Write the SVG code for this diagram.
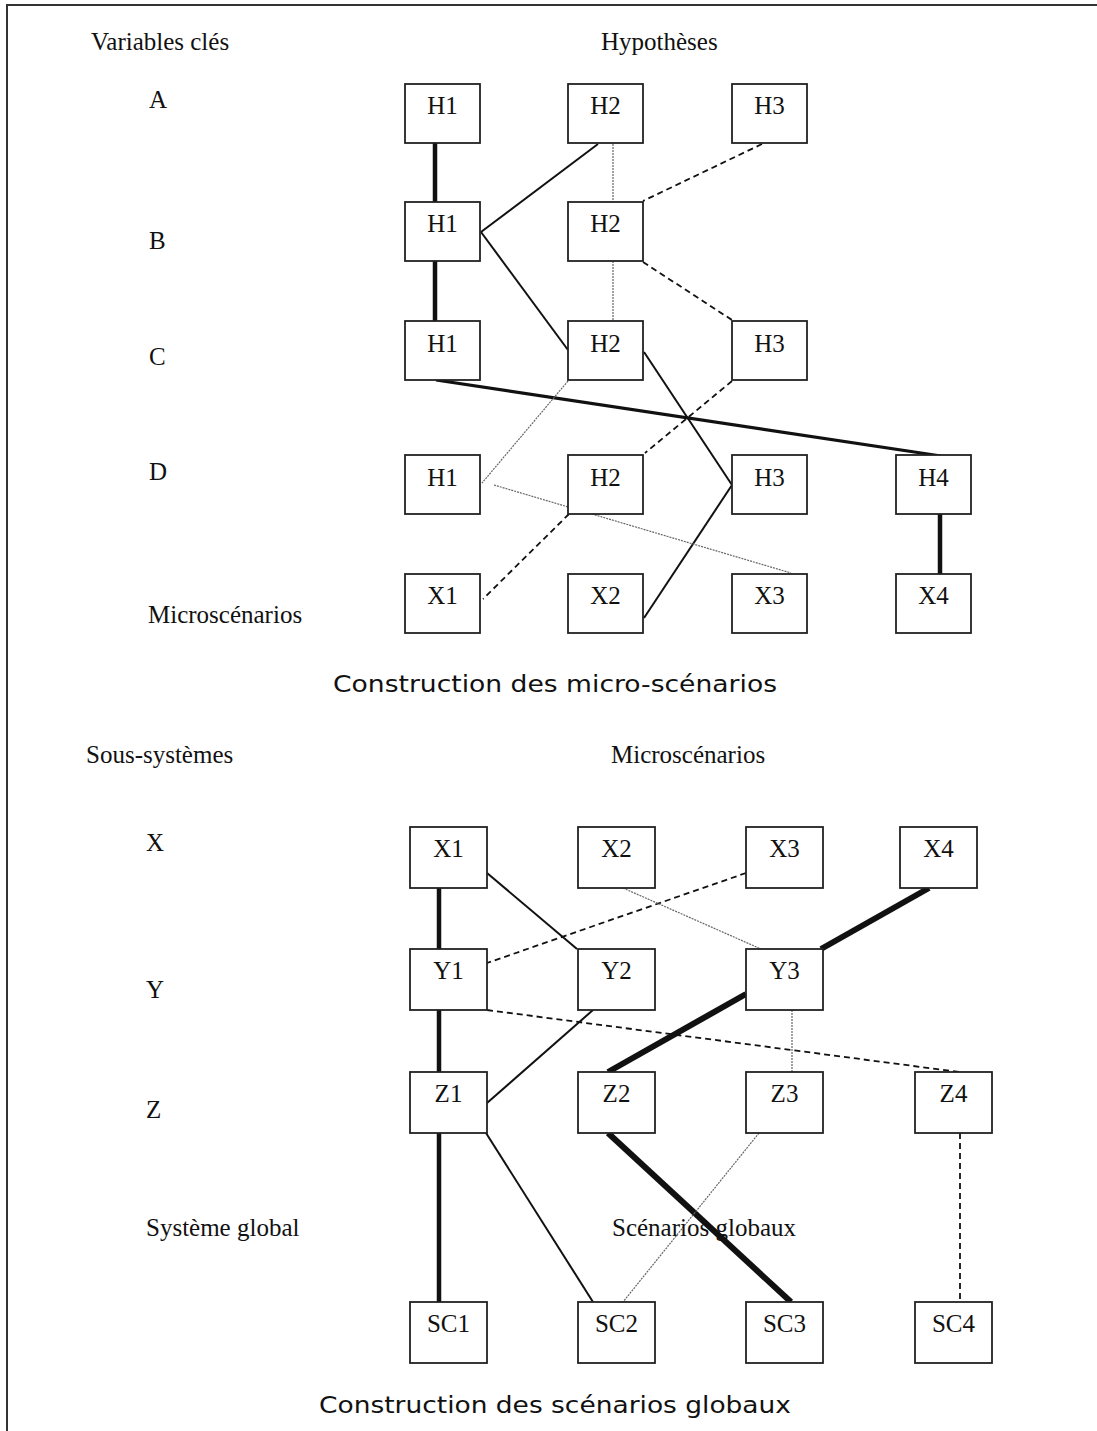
<svg xmlns="http://www.w3.org/2000/svg" width="1097" height="1431" viewBox="0 0 1097 1431">
<style>
.bx{fill:#fff;stroke:#222;stroke-width:1.8}
.t{font-family:"Liberation Serif","Times New Roman",serif;font-size:25px;fill:#111}
.n{font-family:"Liberation Serif","Times New Roman",serif;font-size:25px;fill:#111;text-anchor:middle}
.cap{font-family:"DejaVu Sans",Verdana,sans-serif;font-size:23.5px;fill:#111}
.c{fill:none;stroke:#111}
.thick{stroke-width:4.5}
.vthick{stroke-width:6}
.solid{stroke-width:2}
.dash{stroke-width:1.8;stroke-dasharray:6 4}
.dot{stroke:#666;stroke-width:1.2;stroke-dasharray:2 1}
</style>
<rect width="1097" height="1431" fill="#fff"/>
<path d="M7,1431 V5 H1097" fill="none" stroke="#333" stroke-width="2"/>

<g id="labels">
<text class="t" x="91" y="50">Variables clés</text>
<text class="t" x="601" y="50">Hypothèses</text>
<text class="t" x="149" y="108">A</text>
<text class="t" x="149" y="249">B</text>
<text class="t" x="149" y="365">C</text>
<text class="t" x="149" y="480">D</text>
<text class="t" x="148" y="623">Microscénarios</text>
<text class="cap" x="333" y="692" textLength="444" lengthAdjust="spacingAndGlyphs">Construction des micro-scénarios</text>
<text class="t" x="86" y="763">Sous-systèmes</text>
<text class="t" x="611" y="763">Microscénarios</text>
<text class="t" x="146" y="851">X</text>
<text class="t" x="146" y="998">Y</text>
<text class="t" x="146" y="1118">Z</text>
<text class="t" x="146" y="1236">Système global</text>
<text class="cap" x="319" y="1413" textLength="472" lengthAdjust="spacingAndGlyphs">Construction des scénarios globaux</text>
</g>

<g id="connectors">
<!-- top -->
<line class="c thick" x1="435" y1="143" x2="435" y2="202"/>
<line class="c thick" x1="435" y1="261" x2="435" y2="321"/>
<line class="c solid" x1="481" y1="232" x2="598" y2="144"/>
<line class="c solid" x1="481" y1="232" x2="568" y2="350"/>
<line class="c dot" x1="613" y1="144" x2="613" y2="202"/>
<line class="c dot" x1="613" y1="261" x2="613" y2="321"/>
<line class="c dash" x1="762" y1="144" x2="643" y2="201"/>
<line class="c dash" x1="643" y1="262" x2="732" y2="320"/>
<line class="c thick" style="stroke-width:3.2" x1="436" y1="380" x2="941" y2="456"/>
<line class="c solid" x1="644" y1="352" x2="732" y2="485"/>
<line class="c dot" x1="568" y1="381" x2="482" y2="483"/>
<line class="c dash" x1="732" y1="381" x2="645" y2="453"/>
<line class="c dash" x1="569" y1="514" x2="483" y2="599"/>
<line class="c solid" x1="732" y1="485" x2="644" y2="618"/>
<line class="c dot" x1="494" y1="485" x2="791" y2="573"/>
<line class="c thick" x1="940" y1="514" x2="940" y2="574"/>
<!-- bottom -->
<line class="c thick" x1="439" y1="888" x2="439" y2="949"/>
<line class="c thick" x1="439" y1="1010" x2="439" y2="1072"/>
<line class="c thick" x1="439" y1="1133" x2="439" y2="1302"/>
<line class="c solid" x1="487" y1="873" x2="577" y2="949"/>
<line class="c dash" x1="746" y1="873" x2="487" y2="963"/>
<line class="c dot" x1="623" y1="888" x2="761" y2="949"/>
<line class="c vthick" x1="929" y1="888" x2="821" y2="949"/>
<line class="c vthick" x1="746" y1="994" x2="608" y2="1072"/>
<line class="c dash" x1="487" y1="1010" x2="959" y2="1072"/>
<line class="c solid" x1="593" y1="1010" x2="487" y2="1103"/>
<line class="c dot" x1="792" y1="1010" x2="792" y2="1072"/>
<line class="c solid" x1="486" y1="1133" x2="593" y2="1302"/>
<line class="c vthick" x1="608" y1="1133" x2="791" y2="1302"/>
<line class="c dot" x1="759" y1="1133" x2="623" y2="1302"/>
<line class="c dash" x1="960" y1="1133" x2="960" y2="1302"/>
</g>

<g id="A-H1"><rect class="bx" x="405" y="84" width="75" height="59"/><text class="n" x="442.5" y="114">H1</text></g>
<g id="A-H2"><rect class="bx" x="568" y="84" width="75" height="59"/><text class="n" x="605.5" y="114">H2</text></g>
<g id="A-H3"><rect class="bx" x="732" y="84" width="75" height="59"/><text class="n" x="769.5" y="114">H3</text></g>
<g id="B-H1"><rect class="bx" x="405" y="202" width="75" height="59"/><text class="n" x="442.5" y="232">H1</text></g>
<g id="B-H2"><rect class="bx" x="568" y="202" width="75" height="59"/><text class="n" x="605.5" y="232">H2</text></g>
<g id="C-H1"><rect class="bx" x="405" y="321" width="75" height="59"/><text class="n" x="442.5" y="352">H1</text></g>
<g id="C-H2"><rect class="bx" x="568" y="321" width="75" height="59"/><text class="n" x="605.5" y="352">H2</text></g>
<g id="C-H3"><rect class="bx" x="732" y="321" width="75" height="59"/><text class="n" x="769.5" y="352">H3</text></g>
<g id="D-H1"><rect class="bx" x="405" y="455" width="75" height="59"/><text class="n" x="442.5" y="486">H1</text></g>
<g id="D-H2"><rect class="bx" x="568" y="455" width="75" height="59"/><text class="n" x="605.5" y="486">H2</text></g>
<g id="D-H3"><rect class="bx" x="732" y="455" width="75" height="59"/><text class="n" x="769.5" y="486">H3</text></g>
<g id="D-H4"><rect class="bx" x="896" y="455" width="75" height="59"/><text class="n" x="933.5" y="486">H4</text></g>
<g id="M-X1"><rect class="bx" x="405" y="574" width="75" height="59"/><text class="n" x="442.5" y="604">X1</text></g>
<g id="M-X2"><rect class="bx" x="568" y="574" width="75" height="59"/><text class="n" x="605.5" y="604">X2</text></g>
<g id="M-X3"><rect class="bx" x="732" y="574" width="75" height="59"/><text class="n" x="769.5" y="604">X3</text></g>
<g id="M-X4"><rect class="bx" x="896" y="574" width="75" height="59"/><text class="n" x="933.5" y="604">X4</text></g>

<g id="X1"><rect class="bx" x="410" y="827" width="77" height="61"/><text class="n" x="448.5" y="857">X1</text></g>
<g id="X2"><rect class="bx" x="578" y="827" width="77" height="61"/><text class="n" x="616.5" y="857">X2</text></g>
<g id="X3"><rect class="bx" x="746" y="827" width="77" height="61"/><text class="n" x="784.5" y="857">X3</text></g>
<g id="X4"><rect class="bx" x="900" y="827" width="77" height="61"/><text class="n" x="938.5" y="857">X4</text></g>
<g id="Y1"><rect class="bx" x="410" y="949" width="77" height="61"/><text class="n" x="448.5" y="979">Y1</text></g>
<g id="Y2"><rect class="bx" x="578" y="949" width="77" height="61"/><text class="n" x="616.5" y="979">Y2</text></g>
<g id="Y3"><rect class="bx" x="746" y="949" width="77" height="61"/><text class="n" x="784.5" y="979">Y3</text></g>
<g id="Z1"><rect class="bx" x="410" y="1072" width="77" height="61"/><text class="n" x="448.5" y="1102">Z1</text></g>
<g id="Z2"><rect class="bx" x="578" y="1072" width="77" height="61"/><text class="n" x="616.5" y="1102">Z2</text></g>
<g id="Z3"><rect class="bx" x="746" y="1072" width="77" height="61"/><text class="n" x="784.5" y="1102">Z3</text></g>
<g id="Z4"><rect class="bx" x="915" y="1072" width="77" height="61"/><text class="n" x="953.5" y="1102">Z4</text></g>
<g id="SC1"><rect class="bx" x="410" y="1302" width="77" height="61"/><text class="n" x="448.5" y="1332">SC1</text></g>
<g id="SC2"><rect class="bx" x="578" y="1302" width="77" height="61"/><text class="n" x="616.5" y="1332">SC2</text></g>
<g id="SC3"><rect class="bx" x="746" y="1302" width="77" height="61"/><text class="n" x="784.5" y="1332">SC3</text></g>
<g id="SC4"><rect class="bx" x="915" y="1302" width="77" height="61"/><text class="n" x="953.5" y="1332">SC4</text></g>

<text class="t" x="612" y="1236">Scénarios globaux</text>
</svg>
